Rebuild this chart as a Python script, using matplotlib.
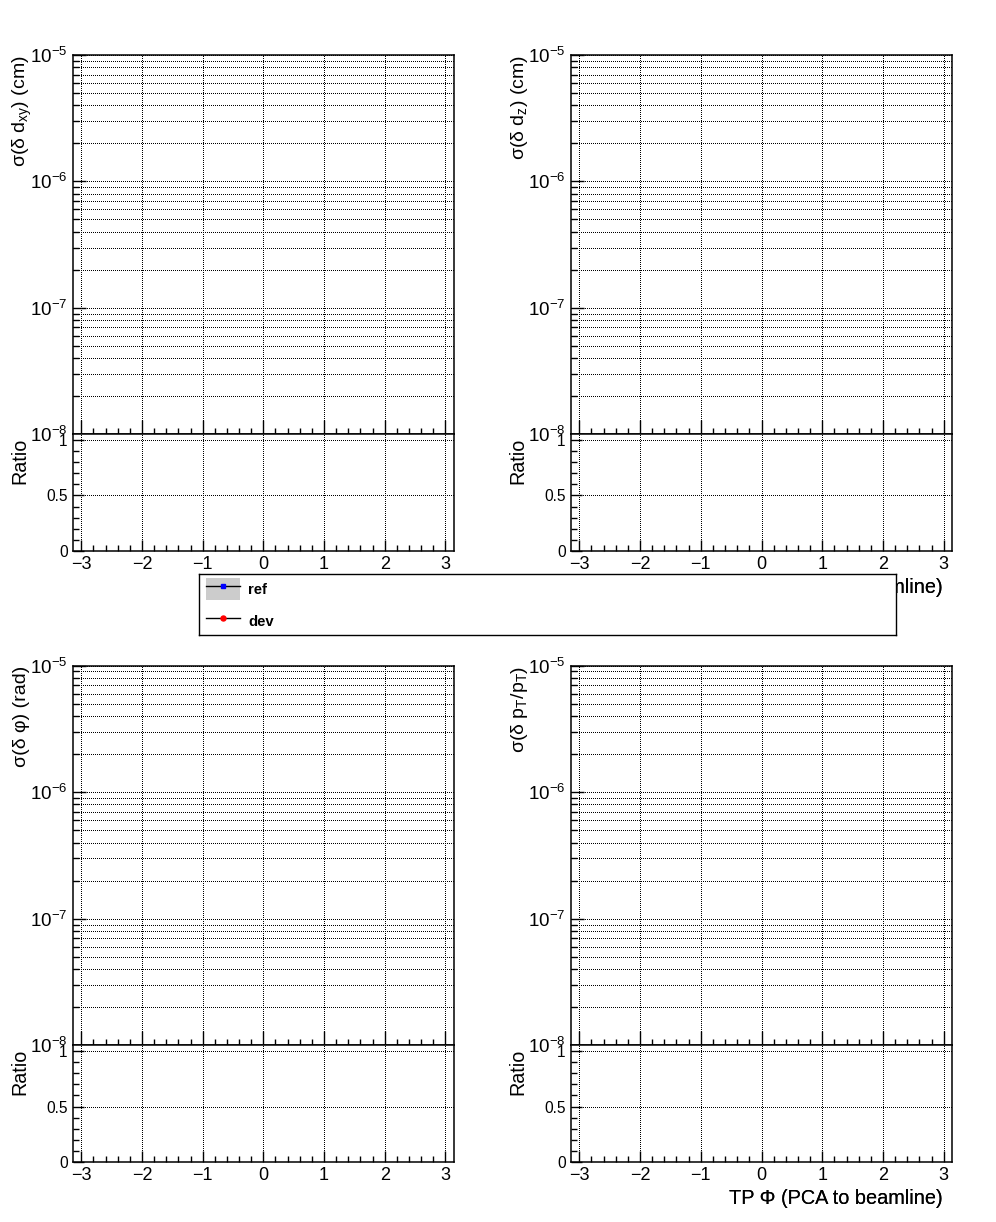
import matplotlib
matplotlib.use("Agg")
import matplotlib.pyplot as plt
import numpy as np
from matplotlib.ticker import LogLocator, MultipleLocator, NullFormatter, FuncFormatter
from matplotlib.lines import Line2D
from matplotlib.patches import Patch

plt.rcParams['font.family'] = ['Liberation Sans', 'DejaVu Sans']
plt.rcParams['mathtext.fontset'] = 'custom'
plt.rcParams['mathtext.rm'] = 'Liberation Sans'
plt.rcParams['mathtext.it'] = 'Liberation Sans'
plt.rcParams['mathtext.bf'] = 'Liberation Sans:bold'

# --- data: the histograms are empty in the reference ---
y_titles = ['σ(δ d$_{xy}$) (cm)', 'σ(δ d$_{z}$) (cm)',
            'σ(δ φ) (rad)', 'σ(δ p$_{T}$/p$_{T}$)']
x_title = 'TP Φ (PCA to beamline)'
phi_bins = []
ref_sigma = [[], [], [], []]
dev_sigma = [[], [], [], []]
ratio_vals = [[], [], [], []]
series_names = ['ref', 'dev']
series_colors = ['blue', 'red']

W, H = 996, 1222
fig = plt.figure(figsize=(W / 100, H / 100), dpi=100)


def fx(px):
    return px / W


def fy(py):
    return 1 - py / H


grid_kw = dict(color='black', linewidth=0.72, linestyle=(0, (1, 2)), antialiased=False)

cols = [(72.7, 454.0), (570.7, 952.3)]
rows = [(55.0, 434.3, 551.0), (665.7, 1045.3, 1162.3)]

for i in range(4):
    r, c = divmod(i, 2)
    x0, x1 = cols[c]
    top, mid, bot = rows[r]
    ax = fig.add_axes([fx(x0), fy(mid), fx(x1 - x0), (mid - top) / H])
    rx = fig.add_axes([fx(x0), fy(bot), fx(x1 - x0), (bot - mid) / H])

    # main pad
    ax.plot(phi_bins, ref_sigma[i], 's-', color=series_colors[0])
    ax.plot(phi_bins, dev_sigma[i], 'o-', color=series_colors[1])
    ax.set_yscale('log')
    ax.set_ylim(1e-8, 1e-5)
    ax.set_xlim(-np.pi, np.pi)
    ax.xaxis.set_major_locator(MultipleLocator(1))
    ax.xaxis.set_minor_locator(MultipleLocator(0.2))
    ax.yaxis.set_major_locator(LogLocator(base=10, numticks=10))
    ax.yaxis.set_minor_locator(LogLocator(base=10, subs=np.arange(2, 10), numticks=20))
    ax.yaxis.set_minor_formatter(NullFormatter())
    ax.tick_params(axis='x', which='both', direction='in', labelbottom=False,
                   top=False, bottom=True)
    ax.tick_params(axis='x', which='major', length=10, width=1)
    ax.tick_params(axis='x', which='minor', length=4, width=1)
    ax.tick_params(axis='y', which='both', direction='in', right=False)
    ax.tick_params(axis='y', which='major', length=9, width=1, labelsize=13.5, pad=4)
    ax.tick_params(axis='y', which='minor', length=4.3, width=1)
    ax.grid(True, which='major', axis='both', **grid_kw)
    ax.grid(True, which='minor', axis='y', **grid_kw)
    ax.set_axisbelow(True)
    ax.set_ylabel(y_titles[i], fontsize=14, loc='top', va='baseline')
    ax.yaxis.set_label_coords(-47 / (x1 - x0), 1.0)

    # ratio pad
    rx.plot(phi_bins, ratio_vals[i], 'o', color=series_colors[1])
    rx.set_xlim(-np.pi, np.pi)
    rx.set_ylim(0, 1.05)
    rx.xaxis.set_major_locator(MultipleLocator(1))
    rx.xaxis.set_minor_locator(MultipleLocator(0.2))
    rx.yaxis.set_major_locator(MultipleLocator(0.5))
    rx.yaxis.set_minor_locator(MultipleLocator(0.1))
    rx.yaxis.set_major_formatter(FuncFormatter(lambda v, p: '%g' % v))
    rx.tick_params(axis='both', which='both', direction='in', top=False, right=False)
    rx.tick_params(axis='x', which='major', length=8, width=1, labelsize=13, pad=3.5)
    rx.tick_params(axis='x', which='minor', length=4, width=1)
    rx.tick_params(axis='y', which='major', length=8, width=1, labelsize=11.2, pad=3.5)
    rx.tick_params(axis='y', which='minor', length=4, width=1)
    rx.grid(True, which='major', axis='both', **grid_kw)
    rx.set_axisbelow(True)
    rx.set_ylabel('Ratio', fontsize=14.2, loc='top', va='baseline')
    rx.yaxis.set_label_coords(-47 / (x1 - x0), 0.97)
    rx.set_xlabel(x_title, fontsize=14.3, ha='right', va='baseline')
    rx.xaxis.set_label_coords((943 - x0) / (x1 - x0), -42 / (bot - mid))

    for a in (ax, rx):
        for s in a.spines.values():
            s.set_linewidth(1.1)

# legend box
lax = fig.add_axes([fx(199.3), fy(635.3), fx(896 - 199.3), 61 / H], facecolor='white')
lax.set_xticks([])
lax.set_yticks([])
for s in lax.spines.values():
    s.set_linewidth(1.0)
lax.set_zorder(10)
ref_handle = (Patch(facecolor='#cccccc', edgecolor='none'),
              Line2D([], [], color='black', lw=1, marker='s', markersize=3.3,
                     markerfacecolor=series_colors[0], markeredgecolor=series_colors[0]))
dev_handle = Line2D([], [], color='black', lw=1, marker='o', markersize=3.6,
                    markerfacecolor=series_colors[1], markeredgecolor=series_colors[1])
lax.legend([ref_handle, dev_handle], series_names, loc='upper left', frameon=False,
           bbox_to_anchor=(fx(206), fy(578)), bbox_transform=fig.transFigure,
           prop={'weight': 'bold', 'size': 10.7}, handlelength=2.29, handleheight=1.9,
           labelspacing=0.69, borderaxespad=0.0, borderpad=0.0, handletextpad=0.54)

fig.savefig('out.png', dpi=100)
